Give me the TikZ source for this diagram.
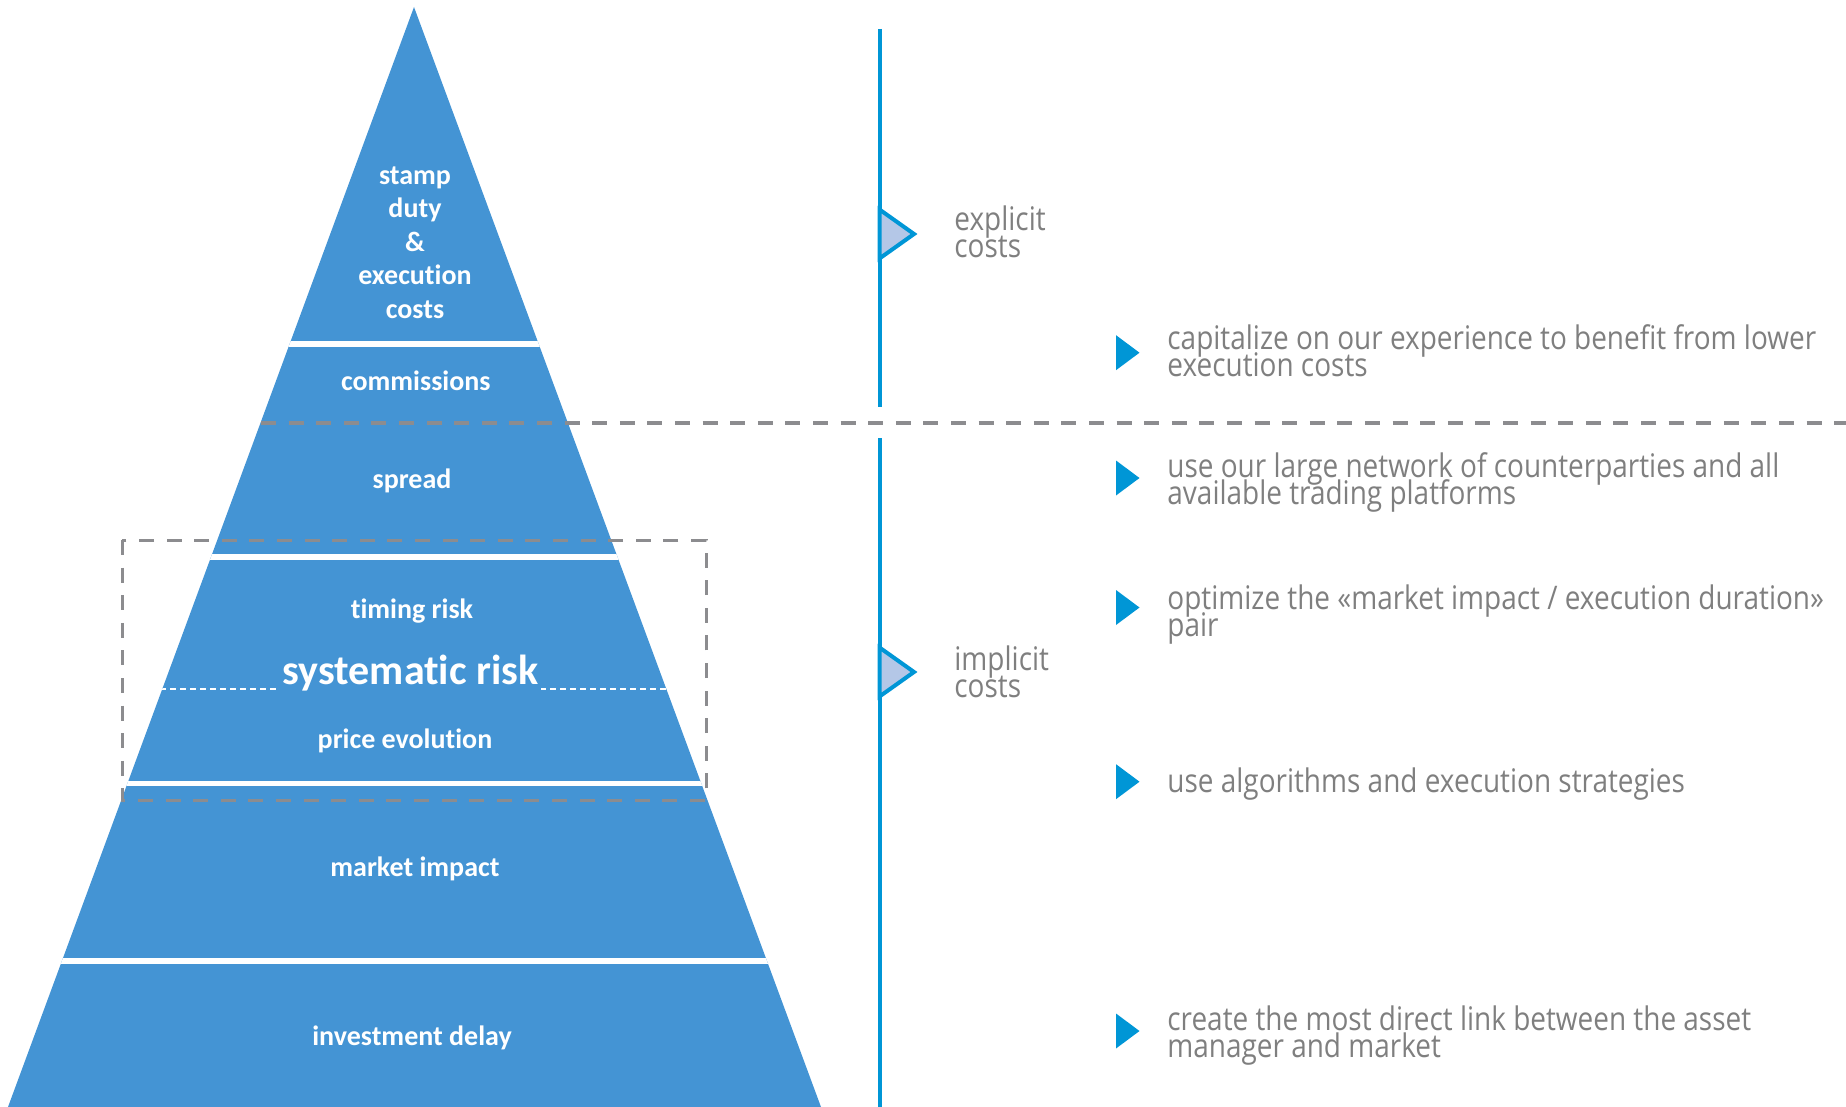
\documentclass[tikz,border=0pt]{standalone}
\usepackage{fontspec}
\setmainfont{Open Sans}[FakeStretch=0.86]
\newfontfamily\pyrfont{Carlito}[Ligatures=NoCommon]

\definecolor{pyrblue}{RGB}{68,148,212}
\definecolor{lineblue}{RGB}{0,150,214}
\definecolor{markfill}{RGB}{180,199,231}
\definecolor{sidegray}{RGB}{127,127,127}
\definecolor{dashgray}{RGB}{140,140,143}

\newcommand{\tightlines}{\lineskiplimit -20pt\relax}

\tikzset{
    pyrlabel/.style={text=white, font={\pyrfont\bfseries\fontsize{14}{16.8}\selectfont\tightlines}, align=center, inner sep=0pt, anchor=base},
    sidetext/.style={text=sidegray, font={\fontsize{16.25}{13.35}\selectfont\tightlines}, align=left, inner sep=0pt, anchor=base west},
    gapline/.style={white, line width=2.8pt},
    greydash/.style={dashgray, dash pattern=on 7.5pt off 6.3pt},
    marker/.style={draw=lineblue, fill=markfill, line width=2pt, line join=miter},
    bullet/.style={fill=lineblue}
}

\begin{document}
\begin{tikzpicture}[x=0.5pt, y=-0.5pt]
        \useasboundingbox (0,0) rectangle (1846,1107);

        % pyramid
        \fill[pyrblue] (414,7) -- (821,1107) -- (8,1107) -- cycle;
        \begin{scope}
            \clip (414,7) -- (821,1107) -- (8,1107) -- cycle;
            \foreach \y in {343.7,557,783.5,961}
                \draw[gapline] (0,\y) -- (840,\y);
            \draw[white, line width=1pt, dash pattern=on 3pt off 2pt] (0,689) -- (840,689);
        \end{scope}

        % labels sit on the baseline of their last line
        \node[pyrlabel] (stamp) at (415,318.5) {stamp\\duty\\\&\\execution\\costs};
        \node[pyrlabel] (commissions) at (415.8,390.8) {commissions};
        \node[pyrlabel] (spread) at (412,488.8) {spread};
        \node[pyrlabel] (timing) at (412,618.5) {timing risk};
        \node[pyrlabel, font={\pyrfont\bfseries\fontsize{21}{25}\selectfont}, fill=pyrblue, inner xsep=1.3pt, inner ysep=2pt] (sysrisk) at (410.5,684) {systematic risk};
        \node[pyrlabel] (evolution) at (405,748.8) {price evolution};
        \node[pyrlabel] (impact) at (415,876) {market impact};
        \node[pyrlabel] (delay) at (412,1045.5) {investment delay};

        % dashed separators
        \draw[greydash, line width=1.8pt] (261,423) -- (1846,423);
        \draw[greydash, line width=1.5pt] (122,540) rectangle (706,800);

        % cost axis
        \draw[lineblue, line width=2pt] (879.5,29) -- (879.5,407);
        \draw[lineblue, line width=2pt] (879.5,438) -- (879.5,1107);
        \filldraw[marker] (879.5,209.5) -- (914,234) -- (879.5,258.5) -- cycle;
        \filldraw[marker] (879.5,647.5) -- (914,672) -- (879.5,696.5) -- cycle;

        \node[sidetext] (explicit) at (954,257.5) {explicit\\costs};
        \node[sidetext] (implicit) at (954,697) {implicit\\costs};

        % bullets
        \foreach \y in {352.7,478,607.5,781.7,1031}
            \fill[bullet] (1116,\y-17.5) -- (1139.5,\y) -- (1116,\y+17.5) -- cycle;

        \node[sidetext] (capitalize) at (1167,376.5) {capitalize on our experience to benefit from lower\\execution costs};
        \node[sidetext] (network) at (1167,504) {use our large network of counterparties and all\\available trading platforms};
        \node[sidetext] (optimize) at (1167,636) {optimize the «market impact / execution duration»\\pair};
        \node[sidetext] (algorithms) at (1167,792) {use algorithms and execution strategies};
        \node[sidetext] (link) at (1167,1057) {create the most direct link between the asset\\manager and market};
    \end{tikzpicture}
\end{document}
